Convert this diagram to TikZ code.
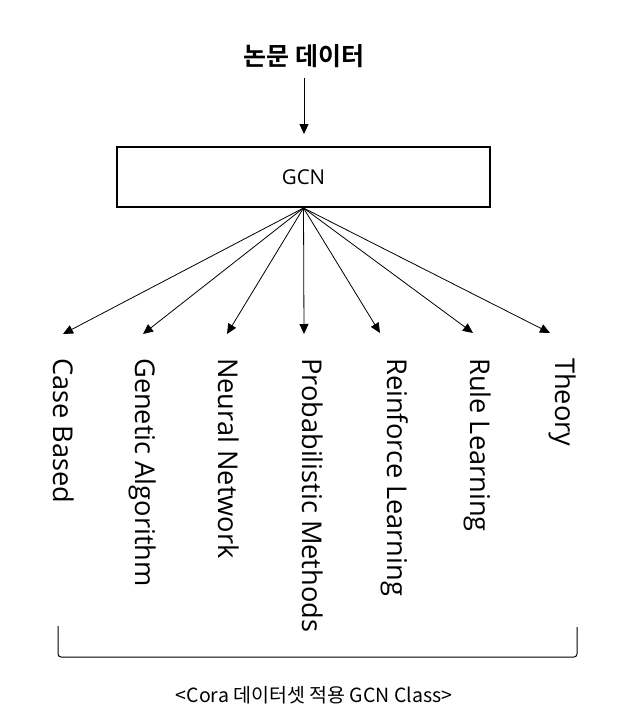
\documentclass[tikz,border=0pt]{standalone}
\usepackage{fontspec}
\setmainfont{Open Sans}
\newfontfamily\kr{Noto Sans CJK KR}
\newfontfamily\krb{Noto Sans CJK KR Bold}
\usetikzlibrary{arrows.meta}
\begin{document}
\begin{tikzpicture}[x=1pt,y=-1pt,
  fanarrow/.style={line width=0.8pt,-{Triangle[length=10pt,width=9pt]}},
  label/.style={rotate=-90,anchor=base west,inner sep=0pt,font=\fontsize{27.2}{30}\selectfont},
  gcnbox/.style={draw,line width=2pt,minimum width=373pt,minimum height=60pt,inner sep=0pt,font=\fontsize{20.5}{24}\selectfont}]
\fill[white] (0,0) rectangle (618,720);
\useasboundingbox (0,0) rectangle (618,720);
\node[font=\krb\fontsize{25}{28}\selectfont,inner sep=0pt] (title) at (304,56) {논문 데이터};
\node[gcnbox] (gcn) at (303.5,177) {GCN};
\coordinate (in) at (304,78);
\draw[fanarrow] (in) -- (304,134) coordinate (intip);
\coordinate (t1) at (63,334);
\coordinate (t2) at (143,334);
\coordinate (t3) at (227,334);
\coordinate (t4) at (304,334);
\coordinate (t5) at (380,333);
\coordinate (t6) at (473,333);
\coordinate (t7) at (550,333);
\foreach \i in {1,...,7} \draw[fanarrow] (gcn.south) -- (t\i);
\node[label] (l1) at (53,358) {Case Based};
\node[label] (l2) at (135,358) {Genetic Algorithm};
\node[label] (l3) at (218,358) {Neural Network};
\node[label] (l4) at (302,358) {Probabilistic Methods};
\node[label] (l5) at (387,358) {Reinforce Learning};
\node[label] (l6) at (470,358) {Rule Learning};
\node[label] (l7) at (555,358) {Theory};
\draw[line width=1pt,rounded corners=3pt] (58,626) -- (58,657) -- (577,657) -- (577,627);
\node[font=\kr\fontsize{19.5}{22}\selectfont,inner sep=0pt] (cap) at (314,695) {<Cora 데이터셋 적용 GCN Class>};
\end{tikzpicture}
\end{document}
